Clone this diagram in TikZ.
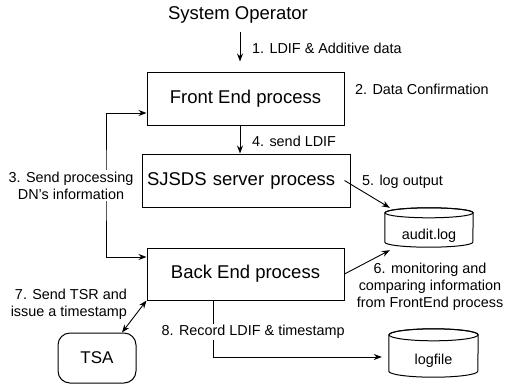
\documentclass[tikz,border=0pt]{standalone}
\usepackage{fontspec}
\setmainfont{Liberation Sans}
\usetikzlibrary{arrows.meta,calc}
\begin{document}
\begin{tikzpicture}[x=1pt,y=-1pt,
  bigfont/.style={font=\fontsize{18.5}{21}\selectfont},
  box/.style={draw,line width=1pt,minimum width=197pt,minimum height=53pt,inner sep=0pt,bigfont},
  lbl/.style={font=\fontsize{14.4}{16.8}\selectfont,inner sep=0pt},
  dbbox/.style={inner sep=0pt},
  arr/.style={line width=0.9pt,-{Stealth[length=8pt,width=6pt]}},
  arrtwo/.style={line width=0.9pt,{Stealth[length=8pt,width=6pt]}-{Stealth[length=8pt,width=6pt]}},
  cyl/.style={line width=1pt}]
\useasboundingbox (0,0) rectangle (510,386);

% nodes
\node[bigfont,inner sep=0pt] (sysop) at (238,15) {System Operator};
\node[box] (front) at (245.5,98.5) {Front End process};
\node[box,minimum width=208pt,text width=198pt,align=left,inner xsep=5pt] (sjsds) at (246,180.5) {SJSDS server process};
\node[box,minimum height=52pt] (back) at (245.5,274) {Back End process};
\node[box,rounded corners=12pt,minimum width=78pt,minimum height=50pt,font=\fontsize{17}{20}\selectfont] (tsa) at (97,358) {TSA};

% audit.log cylinder
\node[dbbox,minimum width=88pt,minimum height=39pt] (audit) at (429,227.5) {};
\draw[cyl] ([yshift=-5pt]audit.north west) -- ([yshift=5pt]audit.south west)
  arc[start angle=180,end angle=360,x radius=44pt,y radius=5pt]
  -- ([yshift=-5pt]audit.north east)
  arc[start angle=0,end angle=180,x radius=44pt,y radius=5pt] -- cycle;
\draw[cyl] ([yshift=-5pt]audit.north) ellipse[x radius=44pt,y radius=5pt];
\node[lbl] (auditlbl) at ([yshift=-8pt]audit.center) {audit.log};

% logfile cylinder
\node[dbbox,minimum width=89pt,minimum height=48pt] (logfile) at (433.5,353) {};
\draw[cyl] ([yshift=-6pt]logfile.north west) -- ([yshift=6pt]logfile.south west)
  arc[start angle=180,end angle=360,x radius=44.5pt,y radius=6pt]
  -- ([yshift=-6pt]logfile.north east)
  arc[start angle=0,end angle=180,x radius=44.5pt,y radius=6pt] -- cycle;
\draw[cyl] ([yshift=-6pt]logfile.north) ellipse[x radius=44.5pt,y radius=6pt];
\node[lbl] (logfilelbl) at ([yshift=-8pt]logfile.center) {logfile};

% coordinates
\coordinate (c1) at (240,32);
\coordinate (c3) at (106,185);
\coordinate (c8) at (213,330);

% connectors
\draw[arr,shorten >=10pt] (c1) -- (c1 |- front.north);
\node[lbl,anchor=west] (l1) at (252,48) {1. LDIF \& Additive data};
\node[lbl,anchor=west] (l2) at (355,89) {2. Data Confirmation};

\draw[arr] (front.south -| c1) -- (sjsds.north -| c1);
\node[lbl,anchor=west] (l4) at (252,141) {4. send LDIF};

\draw[arrtwo] ([yshift=-14.5pt]front.west) -| (c3) |- ([yshift=17pt]back.west);
\node[lbl,fill=white,align=center,inner sep=1.5pt] (l3) at (71,185.5) {3. Send processing\\DN’s information};

\draw[arr] ([xshift=-6pt]sjsds.east) -- ([xshift=5pt]audit.north west);
\node[lbl,anchor=west] (l5) at (362,182) {5. log output};

\draw[arr] (back.east) -- ([xshift=5pt,yshift=-3pt]audit.south west);
\node[lbl,align=center] (l6) at (430,287) {6. monitoring and\\comparing information\\from FrontEnd process};

\draw[arrtwo] ([xshift=25pt]tsa.north) -- (back.south west);
\node[lbl,align=right,anchor=east] (l7) at (127,304) {7. Send TSR and\\issue a timestamp};

\draw[arr,shorten >=7pt] (back.south -| c8) |- ([yshift=-4pt]logfile.west);
\node[lbl,fill=white,anchor=west,inner sep=1.5pt] (l8) at (160,332) {8. Record LDIF \& timestamp};
\end{tikzpicture}
\end{document}
